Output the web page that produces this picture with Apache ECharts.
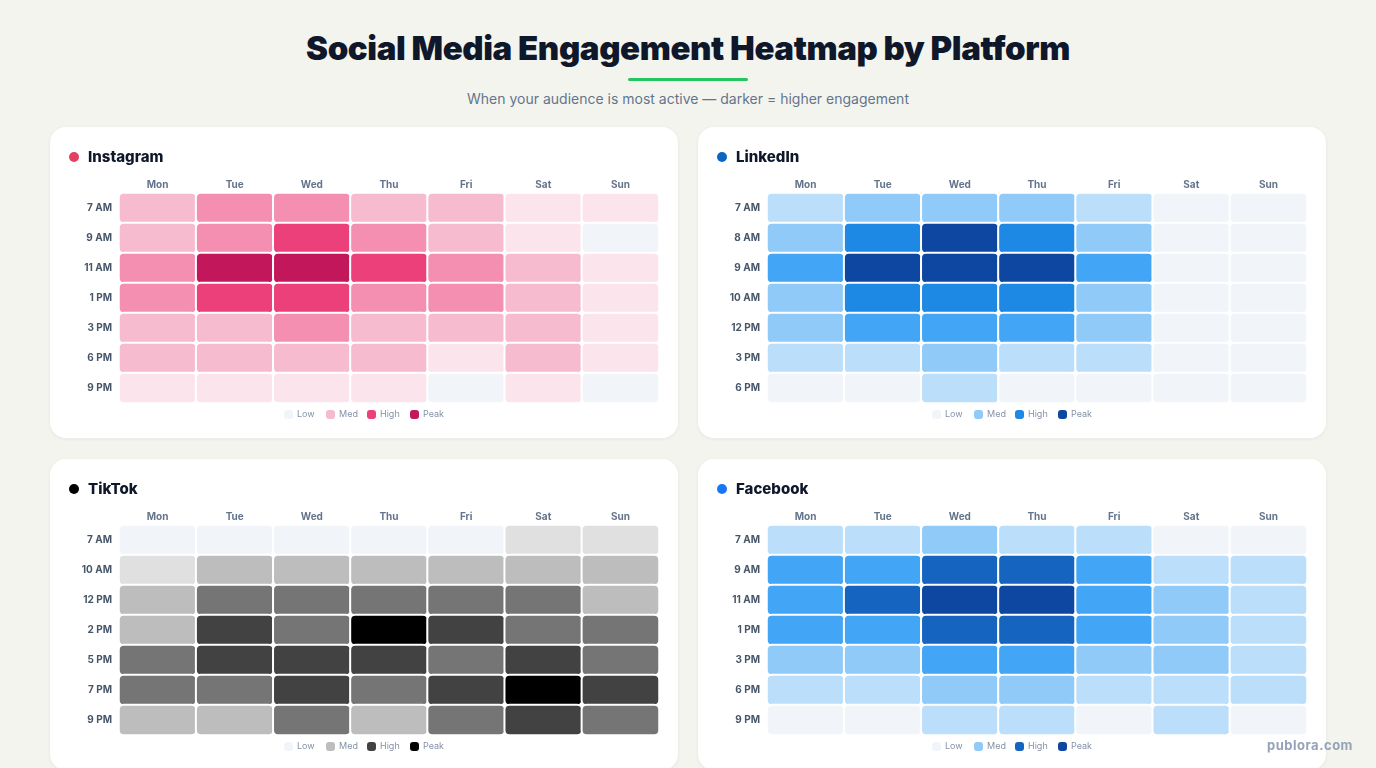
<!DOCTYPE html>
<html>
<head>
<meta charset="utf-8">
<script src="https://cdn.jsdelivr.net/npm/echarts@6/dist/echarts.min.js"></script>
<style>
  html, body { margin: 0; padding: 0; }
  body {
    width: 1376px; height: 768px; overflow: hidden; position: relative;
    background: #f4f4ef; font-family: Inter, "Noto Sans", sans-serif;
  }
  h1 {
    position: absolute; left: 0; right: 0; top: 26px; margin: 0;
    text-align: center; font-size: 33px; font-weight: 900; letter-spacing: -0.4px;
    color: #0f172a; line-height: 44px;
  }
  .bar { position: absolute; left: 628px; top: 78px; width: 120px; height: 3px; background: #22c55e; border-radius: 2px; }
  .sub {
    position: absolute; left: 0; right: 0; top: 89px; text-align: center;
    font-size: 14px; color: #64748b; line-height: 20px;
  }
  .card {
    position: absolute; width: 628px; height: 311px; background: #fff;
    border-radius: 16px; box-shadow: 0 1px 4px rgba(15, 23, 42, 0.06);
  }
  .card .name {
    position: absolute; left: 38px; top: 20px; line-height: 20px;
    font-size: 15px; font-weight: 800; color: #0f172a;
  }
  .card .dot {
    position: absolute; left: 19px; top: 25px; width: 10px; height: 10px; border-radius: 50%;
  }
  .card .chart { position: absolute; left: 0; top: 0; width: 628px; height: 311px; }
  .mark {
    position: absolute; left: 1267px; top: 737px; font-size: 13px; font-weight: 700;
    color: #94a3b8; letter-spacing: 0.5px;
  }
</style>
</head>
<body>
<h1>Social Media Engagement Heatmap by Platform</h1>
<div class="bar"></div>
<div class="sub">When your audience is most active — darker = higher engagement</div>
<div id="cards"></div>
<div class="mark">publora.com</div>
<script>
// engagement level per cell: 0 = low ... 5 = peak
const days = ["Mon", "Tue", "Wed", "Thu", "Fri", "Sat", "Sun"];
const legendLabels = ["Low", "Med", "High", "Peak"];

const instagramHours = ["7 AM", "9 AM", "11 AM", "1 PM", "3 PM", "6 PM", "9 PM"];
const instagramLevels = [
  [2, 3, 3, 2, 2, 1, 1],
  [2, 3, 4, 3, 2, 1, 0],
  [3, 5, 5, 4, 3, 2, 1],
  [3, 4, 4, 3, 3, 2, 1],
  [2, 2, 3, 2, 2, 2, 1],
  [2, 2, 2, 2, 1, 2, 1],
  [1, 1, 1, 1, 0, 1, 0],
];
const instagramColors = ["#f1f5f9", "#fce4ec", "#f6bbcf", "#f48fb1", "#ec407a", "#c2185b"];

const linkedinHours = ["7 AM", "8 AM", "9 AM", "10 AM", "12 PM", "3 PM", "6 PM"];
const linkedinLevels = [
  [1, 2, 2, 2, 1, 0, 0],
  [2, 4, 5, 4, 2, 0, 0],
  [3, 5, 5, 5, 3, 0, 0],
  [2, 4, 4, 4, 2, 0, 0],
  [2, 3, 3, 3, 2, 0, 0],
  [1, 1, 2, 1, 1, 0, 0],
  [0, 0, 1, 0, 0, 0, 0],
];
const linkedinColors = ["#f1f5f9", "#bbdefb", "#90caf9", "#42a5f5", "#1e88e5", "#0d47a1"];

const tiktokHours = ["7 AM", "10 AM", "12 PM", "2 PM", "5 PM", "7 PM", "9 PM"];
const tiktokLevels = [
  [0, 0, 0, 0, 0, 1, 1],
  [1, 2, 2, 2, 2, 2, 2],
  [2, 3, 3, 3, 3, 3, 2],
  [2, 4, 3, 5, 4, 3, 3],
  [3, 4, 4, 4, 3, 4, 3],
  [3, 3, 4, 3, 4, 5, 4],
  [2, 2, 3, 2, 3, 4, 3],
];
const tiktokColors = ["#f1f5f9", "#e0e0e0", "#bdbdbd", "#757575", "#424242", "#000000"];

const facebookHours = ["7 AM", "9 AM", "11 AM", "1 PM", "3 PM", "6 PM", "9 PM"];
const facebookLevels = [
  [1, 1, 2, 1, 1, 0, 0],
  [3, 3, 4, 4, 3, 1, 1],
  [3, 4, 5, 5, 3, 2, 1],
  [3, 3, 4, 4, 3, 2, 1],
  [2, 2, 3, 3, 2, 2, 1],
  [1, 1, 2, 2, 1, 1, 1],
  [0, 0, 1, 1, 0, 1, 0],
];
const facebookColors = ["#f1f5f9", "#bbdefb", "#90caf9", "#42a5f5", "#1565c0", "#0d47a1"];

const platforms = [
  { name: "Instagram", dot: "#e4405f", hours: instagramHours, levels: instagramLevels, colors: instagramColors, left: 50, top: 127 },
  { name: "LinkedIn", dot: "#0a66c2", hours: linkedinHours, levels: linkedinLevels, colors: linkedinColors, left: 698, top: 127 },
  { name: "TikTok", dot: "#000000", hours: tiktokHours, levels: tiktokLevels, colors: tiktokColors, left: 50, top: 459 },
  { name: "Facebook", dot: "#1877f2", hours: facebookHours, levels: facebookLevels, colors: facebookColors, left: 698, top: 459 },
];

/**
 * Legend drawn as small swatches under the grid (Low / Med / High / Peak)
 */
function legendGraphic(colors) {
  const picks = [colors[0], colors[2], colors[4], colors[5]];
  const swatchX = [234, 276, 317, 360];
  const children = [];
  picks.forEach((c, i) => {
    children.push({
      type: "rect",
      shape: { x: swatchX[i], y: 283, width: 9, height: 9, r: 3 },
      style: { fill: c },
    });
    children.push({
      type: "text",
      style: {
        x: swatchX[i] + 13, y: 287.5, text: legendLabels[i],
        fill: "#8592a6", fontSize: 9, fontFamily: "Inter", verticalAlign: "middle",
      },
    });
  });
  return children;
}

function createHeatmap(el, p) {
  const chart = echarts.init(el);
  const data = [];
  p.levels.forEach((row, r) => {
    row.forEach((v, c) => data.push([c, r, v]));
  });

  chart.setOption({
    animation: false,
    textStyle: { fontFamily: "Inter" },
    grid: { left: 69, top: 66, width: 540, height: 210 },
    xAxis: {
      type: "category",
      position: "top",
      data: days,
      axisLine: { show: false },
      axisTick: { show: false },
      splitLine: { show: false },
      axisLabel: { color: "#64748b", fontSize: 10, fontWeight: 700, margin: 3 },
    },
    yAxis: {
      type: "category",
      inverse: true,
      data: p.hours,
      axisLine: { show: false },
      axisTick: { show: false },
      splitLine: { show: false },
      axisLabel: { color: "#475569", fontSize: 10, fontWeight: 700, margin: 7 },
    },
    visualMap: {
      type: "piecewise",
      show: false,
      dimension: 2,
      pieces: p.colors.map((color, i) => ({ value: i, color })),
    },
    graphic: legendGraphic(p.colors),
    series: [
      {
        type: "heatmap",
        data: data,
        itemStyle: { borderColor: "#ffffff", borderWidth: 2, borderRadius: 5 },
        emphasis: { disabled: true },
      },
    ],
  });
  return chart;
}

const holder = document.getElementById("cards");
platforms.forEach((p) => {
  const card = document.createElement("div");
  card.className = "card";
  card.style.left = p.left + "px";
  card.style.top = p.top + "px";
  card.innerHTML =
    '<div class="chart"></div><span class="dot" style="background:' + p.dot + '"></span>' +
    '<div class="name">' + p.name + "</div>";
  holder.appendChild(card);
  createHeatmap(card.querySelector(".chart"), p);
});
</script>
</body>
</html>
